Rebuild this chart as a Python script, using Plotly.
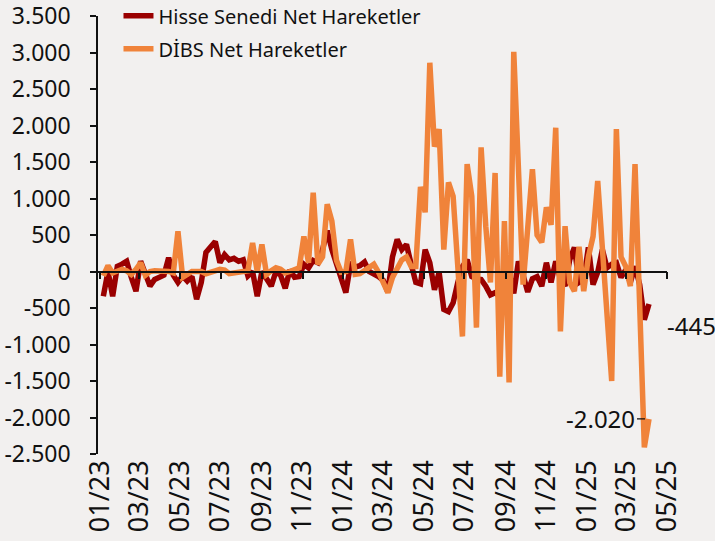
import pandas as pd
import plotly.graph_objects as go

start_date = "2023-01-06"
n_weeks = 118

hisse = [-340, 0, -340, 70, 100, 140, -80, -270, 140, -50,
         -200, -110, -70, -50, 190, -50, -150, -60, -130, -70,
         -380, -150, 260, 330, 410, 120, 230, 160, 180, 140,
         160, -60, 0, -340, 0, -100, -200, 0, -50, -230,
         20, -80, -70, 100, 50, 150, 120, 300, 560, 300,
         100, -100, -290, 100, 60, 80, 130, 0, -30, -70,
         -120, -280, 200, 440, 300, 370, 100, -150, -170, 300,
         120, -250, -10, -520, -550, -430, -150, 70, 160, -70,
         -100, -110, -200, -320, -290, -340, -150, -20, -300, 140,
         -50, -280, -100, -70, -200, 120, -150, 140, -100, -200,
         160, 330, -150, -110, 330, -180, -10, 300, 50, 100,
         120, -80, 20, -150, 70, -180, -660, -445]

dibs = [-60, 80, -20, 0, 30, 10, -40, 30, 120, -50,
        0, 10, 10, 10, 0, -20, 550, -80, -30, 0,
        0, 0, -30, 0, 10, 30, 20, -30, -20, -10,
        10, 10, 390, 0, 370, -40, 10, 50, 30, -20,
        0, 20, 50, 480, 120, 1080, 100, 200, 920, 690,
        150, -10, 0, 440, -40, -30, 20, 60, 100, -10,
        -150, -290, -80, 30, 160, 200, 70, 70, 1160, 810,
        2860, 1710, 1950, 300, 1220, 1030, 70, -890, 1470, 1030,
        -770, 1700, 620, -150, 1350, -1440, 690, -1520, 3010, 1400,
        -180, 600, 1400, 500, 400, 880, 640, 1970, -820, 620,
        -150, -270, 340, -270, 200, 480, 1240, 320, -590, -1500,
        1950, 200, 70, -200, 1470, -500, -2410, -2020]

series_names = ["Hisse Senedi Net Hareketler", "DİBS Net Hareketler"]

x_tick_dates = ["2023-01-01", "2023-03-01", "2023-05-01", "2023-07-01", "2023-09-01",
                "2023-11-01", "2024-01-01", "2024-03-01", "2024-05-01", "2024-07-01",
                "2024-09-01", "2024-11-01", "2025-01-01", "2025-03-01", "2025-05-01"]
x_tick_text = ["01/23", "03/23", "05/23", "07/23", "09/23", "11/23", "01/24", "03/24",
               "05/24", "07/24", "09/24", "11/24", "01/25", "03/25", "05/25"]

y_tick_vals = [-2500, -2000, -1500, -1000, -500, 0, 500, 1000, 1500, 2000, 2500, 3000, 3500]
y_tick_text = ["-2.500", "-2.000", "-1.500", "-1.000", "-500", "0", "500",
               "1.000", "1.500", "2.000", "2.500", "3.000", "3.500"]

dates = pd.date_range(start_date, periods=n_weeks, freq="7D")


def tr_fmt(v):
    s = f"{abs(int(v)):,}".replace(",", ".")
    return ("-" if v < 0 else "") + s


RED = "#9a0000"
ORANGE = "#f0833a"
BG = "#f2f0ef"
FONT = "Noto Sans"
INK = "#111111"

fig = go.Figure()
fig.add_trace(go.Scatter(x=dates, y=hisse, mode="lines", name=series_names[0],
                         legendgroup="a", line=dict(color=RED, width=5.5)))
fig.add_trace(go.Scatter(x=dates, y=dibs, mode="lines", name=series_names[1],
                         legendgroup="b", line=dict(color=ORANGE, width=5.5)))
# invisible helper trace to activate the zero-line axis
fig.add_trace(go.Scatter(x=[dates[0]], y=[None], xaxis="x2", showlegend=False,
                         hoverinfo="skip"))

x_range = ["2022-12-29", "2025-05-01"]

fig.update_layout(
    template="none",
    width=715, height=541,
    margin=dict(l=98, r=48, t=16, b=87, autoexpand=False),
    paper_bgcolor=BG, plot_bgcolor=BG,
    font=dict(family=FONT, size=23, color=INK),
    showlegend=True,
    legend=dict(x=0.036, y=1.045, xanchor="left", yanchor="top",
                bgcolor="rgba(0,0,0,0)", font=dict(size=20, family=FONT, color=INK),
                tracegroupgap=4, itemwidth=30, borderwidth=0),
    xaxis=dict(range=x_range, type="date", tickvals=x_tick_dates, ticktext=x_tick_text,
               tickangle=-90, showgrid=False, zeroline=False, showline=False,
               ticks="", tickfont=dict(size=27), automargin=False,
               ticklabeloverflow="allow"),
    xaxis2=dict(range=x_range, type="date", overlaying="x", anchor="free",
                position=2500 / 6000, side="bottom", tickvals=x_tick_dates,
                showticklabels=False, showgrid=False, zeroline=False,
                showline=True, linecolor=INK, linewidth=1.5,
                ticks="outside", ticklen=7, tickcolor=INK, tickwidth=1.5,
                automargin=False),
    yaxis=dict(range=[-2500, 3500], tickvals=y_tick_vals, ticktext=y_tick_text,
               showgrid=False, zeroline=False, showline=True, linecolor=INK,
               linewidth=1.5, ticks="outside", ticklen=6, tickcolor=INK,
               tickwidth=1.5, tickfont=dict(size=23), ticklabelstandoff=15,
               automargin=False, ticklabeloverflow="allow"),
)

fig.add_annotation(x=dates[-1], y=hisse[-1], text=tr_fmt(hisse[-1]), showarrow=False,
                   xanchor="left", yanchor="middle", xshift=16, yshift=-22,
                   font=dict(size=24, family=FONT, color=INK))
fig.add_annotation(x=dates[-1], y=dibs[-1], text=tr_fmt(dibs[-1]), showarrow=True,
                   arrowhead=0, arrowwidth=1.2, arrowcolor=INK, ax=-12, ay=0,
                   standoff=4, xanchor="right", yanchor="middle",
                   font=dict(size=24, family=FONT, color=INK))

fig.write_html("out.html", config={"displayModeBar": False},
               post_script="document.body.style.margin='0';")
